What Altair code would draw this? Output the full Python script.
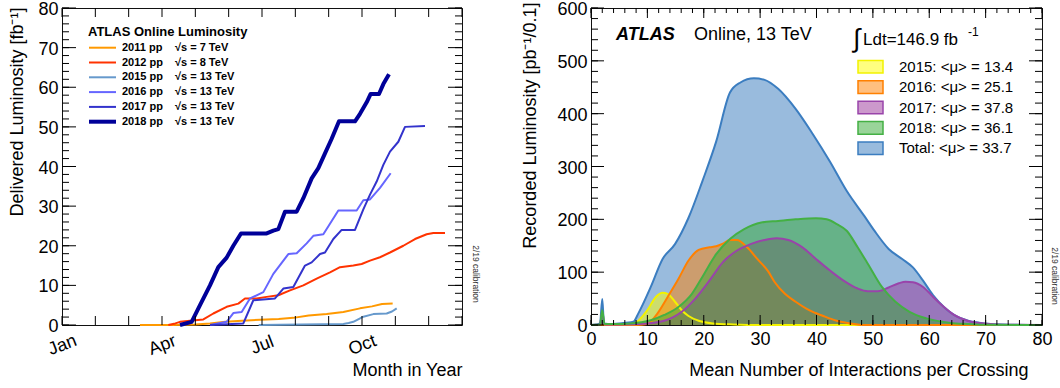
import altair as alt
import pandas as pd

FONT = "Liberation Sans"

# ---------------- Left panel: delivered luminosity vs month ----------------
left_years = ["2011", "2012", "2015", "2016", "2017", "2018"]
left_pp = ["2011 pp", "2012 pp", "2015 pp", "2016 pp", "2017 pp", "2018 pp"]
left_energy = ["√s = 7 TeV", "√s = 8 TeV", "√s = 13 TeV", "√s = 13 TeV", "√s = 13 TeV", "√s = 13 TeV"]
left_colors = ["#ff9900", "#ff3300", "#6699cc", "#6666ff", "#3333cc", "#000099"]

month_2011 = [2.34, 3.3, 4.0, 4.44, 4.9, 5.4, 5.94, 6.5, 6.94, 7.4, 7.94, 8.44, 8.94, 9.3, 9.6, 9.92]
lum_2011 = [0, 0, 0.1, 0.4, 0.8, 1.1, 1.3, 1.5, 1.8, 2.4, 2.8, 3.3, 4.2, 4.7, 5.3, 5.4]

month_2012 = [3.19, 3.4, 3.54, 3.84, 4.24, 4.54, 4.94, 5.29, 5.49, 5.84, 6.14, 6.49, 6.84, 7.24,
              7.64, 8.04, 8.34, 8.74, 8.99, 9.24, 9.54, 9.84, 10.24, 10.59, 10.94, 11.14, 11.49]
lum_2012 = [0, 0.4, 0.8, 1.1, 1.4, 2.9, 4.6, 5.4, 6.7, 6.7, 7.1, 7.5, 8.75, 10,
            11.7, 13.3, 14.6, 15, 15.4, 16.25, 17.1, 18.3, 20, 21.7, 22.9, 23.2, 23.2]

month_2015 = [5.9, 8.44, 8.6, 8.74, 8.9, 9.04, 9.34, 9.74, 9.9, 10.04]
lum_2015 = [0, 0.25, 0.5, 0.8, 1.5, 2.1, 2.75, 2.9, 3.4, 4.2]

month_2016 = [4.44, 4.94, 5.14, 5.39, 5.64, 6.04, 6.34, 6.79, 7.04, 7.34, 7.54, 7.84, 8.29, 8.84,
              9.04, 9.24, 9.54, 9.86]
lum_2016 = [0, 0.8, 3, 3.3, 6.7, 8.3, 12.9, 17.9, 18.1, 20.6, 22.5, 22.9, 28.9, 28.9,
            31.5, 31.7, 34.6, 38.3]

month_2017 = [4.44, 5.44, 5.74, 5.94, 6.39, 6.64, 6.94, 7.29, 7.49, 7.74, 7.89, 8.14, 8.39, 8.79,
              9.04, 9.24, 9.44, 9.64, 9.84, 10.09, 10.29, 10.89]
lum_2017 = [0, 0.4, 6.25, 6.4, 6.7, 9.2, 9.6, 15, 15.8, 17.9, 18.3, 21.7, 24, 24,
            29.2, 32.9, 36.2, 40.4, 43.75, 46.25, 50, 50.25]

month_2018 = [3.54, 3.89, 4.14, 4.44, 4.69, 4.94, 5.14, 5.37, 6.14, 6.34, 6.49, 6.69, 7.04, 7.24,
              7.49, 7.69, 7.89, 8.09, 8.31, 8.79, 8.94, 9.14, 9.26, 9.51, 9.64, 9.81]
lum_2018 = [0, 0.8, 5, 10, 14.6, 17, 20, 23.1, 23.1, 23.8, 24.2, 28.6, 28.6, 32,
            37, 39.6, 43.3, 47, 51.4, 51.4, 53.3, 56.2, 58.3, 58.3, 60.8, 63.3]

month_tick_labels = ["Jan", "Apr", "Jul", "Oct"]
month_tick_pos = [0, 3, 6, 9]
left_legend_title = "ATLAS Online Luminosity"
calib_text = "2/19 calibration"

# ---------------- Right panel: pile-up distribution ----------------
right_series = ["Total", "2015", "2016", "2017", "2018"]          # drawing order
right_fill = ["#3377bb", "#ffff00", "#ff8000", "#993399", "#33aa33"]
right_line = ["#3b7dc0", "#f2f200", "#ff8000", "#9944aa", "#44b044"]

mu_total = [0, 1.0, 1.6, 2.0, 2.3, 3.0, 5, 7.5, 8.4, 10.6, 12.7, 14.9, 17.3, 19.75, 22.2, 24.65, 26.5,
            28.9, 30.8, 33.2, 36.3, 39.3, 42.4, 45.4, 48.5, 50.3, 52.8, 55.2, 57.1, 58.9, 60.7, 62.6,
            64.4, 66.9, 69.9, 73, 80]
lum_total = [0, 1, 3, 49, 3, 2, 3, 6, 22, 72, 125, 153, 203, 272, 347, 440, 459,
             467, 464, 447, 409, 362, 309, 253, 206, 178, 144, 125, 109, 84, 56, 34,
             19, 8, 3, 1, 0]

mu_2015 = [0, 5, 7.5, 10, 11.5, 12.7, 13.6, 14.9, 16.1, 17.3, 19.1, 21.6, 25.3, 30, 80]
lum_2015r = [0, 0, 2, 28, 53, 61, 59, 44, 28, 17, 8, 3, 1, 0, 0]

mu_2016 = [0, 8, 10, 11.8, 13.6, 15.5, 17.3, 19.1, 21, 22.2, 23.4, 24.65, 25.9, 27.7, 29.5, 31.4,
           32.6, 34.4, 36.3, 38.7, 41.2, 43.6, 46, 48.5, 80]
lum_2016r = [0, 0, 2, 22, 53, 87, 122, 142, 147, 149, 154, 161, 161, 147, 125, 102,
             81, 59, 44, 28, 17, 8, 3, 0, 0]

mu_2017 = [0, 1.6, 2.0, 2.4, 5, 10, 13, 16.1, 18.5, 21, 23.4, 25.9, 28.3, 30.8, 32.9, 35, 37.5,
           39.9, 42.4, 44.8, 47.3, 49.1, 50.9, 52.8, 54.6, 55.8, 57.1, 58.9, 60.7, 62.6, 64.4,
           66.9, 69.9, 74.2, 80]
lum_2017r = [0, 1, 23, 1, 1, 3, 8, 25, 50, 84, 119, 141, 153, 161, 164, 161, 147,
             125, 103, 84, 69, 64, 64, 71, 79, 82, 81, 72, 53, 34, 19,
             7.5, 2.5, 0.5, 0]

mu_2018 = [0, 1.6, 2.0, 2.4, 4, 6.9, 10.6, 13, 15.5, 17.9, 19.75, 22.2, 24.65, 27.1, 30.2, 33.2,
           36.3, 39.9, 41.8, 43.6, 45.4, 47.3, 49.1, 51.6, 54, 56.5, 59.5, 63.8, 66.9, 70, 80]
lum_2018r = [0, 1, 28, 2, 2, 3, 9, 19, 34, 59, 91, 134, 163, 181, 194, 197,
             200, 202, 200, 191, 178, 147, 116, 72, 44, 25, 12.5, 4, 2, 0.5, 0]

right_legend_names = ["2015", "2016", "2017", "2018", "Total"]
right_legend_labels = ["2015: <μ> = 13.4", "2016: <μ> = 25.1", "2017: <μ> = 37.8",
                       "2018: <μ> = 36.1", "Total: <μ> = 33.7"]
atlas_label = "ATLAS"
online_label = "Online, 13 TeV"
integral_sign = "∫"
lumi_label = "Ldt=146.9 fb"
lumi_exp = "-1"

# ---------------- geometry ----------------
TOP = 8                      # top padding (plot top edge)
BOTTOM_EDGE = 325            # plot bottom edge in the page
LW, LH = 400, BOTTOM_EDGE - TOP
RW, RH = 451, BOTTOM_EDGE - TOP
D = TOP - 5                  # shift of plot-relative annotation positions


def ticks(values, channel, scale, axis, side, length, W, H):
    df = pd.DataFrame({"t": values})
    base = alt.Chart(df).mark_rule(color="black", strokeWidth=1)
    if channel == "x":
        enc = dict(x=alt.X("t:Q", scale=scale, axis=axis))
        if side == "bottom":
            enc.update(y=alt.value(H), y2=alt.value(H - length))
        else:
            enc.update(y=alt.value(0), y2=alt.value(length))
    else:
        enc = dict(y=alt.Y("t:Q", scale=scale, axis=axis))
        if side == "left":
            enc.update(x=alt.value(0), x2=alt.value(length))
        else:
            enc.update(x=alt.value(W - length), x2=alt.value(W))
    return base.encode(**enc)


def label_text(text, x, y, size, **kw):
    return alt.Chart(pd.DataFrame({"t": [text]})).mark_text(
        font=FONT, fontSize=size, align=kw.pop("align", "left"),
        baseline=kw.pop("baseline", "middle"), **kw
    ).encode(text="t:N", x=alt.value(x), y=alt.value(y))


# ---------------- left chart ----------------
rows = []
for yr, ms, vs in zip(left_years,
                      [month_2011, month_2012, month_2015, month_2016, month_2017, month_2018],
                      [lum_2011, lum_2012, lum_2015, lum_2016, lum_2017, lum_2018]):
    for m, v in zip(ms, vs):
        rows.append({"year": yr, "month": m, "lum": v})
df_left = pd.DataFrame(rows)

xs_l = alt.Scale(domain=[0, 12], nice=False, zero=False)
ys_l = alt.Scale(domain=[0, 80], nice=False)
cs_l = alt.Scale(domain=left_years, range=left_colors)

label_js = "[" + ",".join("'%s'" % s for s in month_tick_labels) + "]"
x_axis_l = alt.Axis(values=month_tick_pos, labelExpr=label_js + "[round(datum.value/3)]",
                    labelAngle=339, labelAlign="center", labelBaseline="middle", labelPadding=20,
                    title="Month in Year", titleX=LW, titleY=45, titleAlign="right",
                    titleBaseline="middle", labelFlush=False, labelOverlap=False)
y_axis_l = alt.Axis(values=list(range(0, 81, 10)), labelPadding=4, labelFlush=False,
                    labelOffset=1.5, labelOverlap=False, title="Delivered Luminosity [fb⁻¹]",
                    titleX=-45, titleY=2 - D, titleAngle=270, titleAlign="right",
                    titleBaseline="middle")

thin = alt.Chart(df_left).transform_filter(alt.datum.year != "2018").mark_line(
    strokeWidth=2, strokeJoin="round").encode(
    x=alt.X("month:Q", scale=xs_l, axis=x_axis_l),
    y=alt.Y("lum:Q", scale=ys_l, axis=y_axis_l),
    color=alt.Color("year:N", scale=cs_l, legend=None),
    detail="year:N")
thick = alt.Chart(df_left).transform_filter(alt.datum.year == "2018").mark_line(
    strokeWidth=4, strokeJoin="round").encode(
    x=alt.X("month:Q", scale=xs_l, axis=x_axis_l),
    y=alt.Y("lum:Q", scale=ys_l, axis=y_axis_l),
    color=alt.Color("year:N", scale=cs_l, legend=None))

left_main = alt.layer(
    thin, thick,
    ticks(list(range(0, 13)), "x", xs_l, x_axis_l, "bottom", 9, LW, LH),
    ticks(list(range(0, 13)), "x", xs_l, x_axis_l, "top", 9, LW, LH),
    ticks(list(range(0, 81, 10)), "y", ys_l, y_axis_l, "left", 14, LW, LH),
    ticks(list(range(0, 81, 2)), "y", ys_l, y_axis_l, "left", 7, LW, LH),
    ticks(list(range(0, 81, 10)), "y", ys_l, y_axis_l, "right", 14, LW, LH),
    ticks(list(range(0, 81, 2)), "y", ys_l, y_axis_l, "right", 7, LW, LH),
)

leg_l = pd.DataFrame({"row": list(range(len(left_years))), "year": left_years,
                      "pp": left_pp, "energy": left_energy})
row_scale_l = alt.Scale(domain=[0, 5], range=[42.7 - D, 116.7 - D], nice=False, zero=False)
leg_rules = alt.Chart(leg_l).mark_rule().encode(
    x=alt.value(27), x2=alt.value(54),
    y=alt.Y("row:Q", scale=row_scale_l, axis=None),
    color=alt.Color("year:N", scale=cs_l, legend=None),
    strokeWidth=alt.condition(alt.datum.year == "2018", alt.value(4), alt.value(2)))
leg_pp = alt.Chart(leg_l).mark_text(font=FONT, fontSize=11, fontWeight="bold", align="left",
                                    baseline="middle").encode(
    x=alt.value(60), y=alt.Y("row:Q", scale=row_scale_l, axis=None), text="pp:N")
leg_en = alt.Chart(leg_l).mark_text(font=FONT, fontSize=11, fontWeight="bold", align="left",
                                    baseline="middle").encode(
    x=alt.value(113), y=alt.Y("row:Q", scale=row_scale_l, axis=None), text="energy:N")

left = alt.layer(
    left_main, leg_rules, leg_pp, leg_en,
    label_text(left_legend_title, 26, 27 - D, 13, fontWeight="bold"),
    label_text(calib_text, 414, 269 - D, 8.5, align="center", angle=90, color="#333"),
).resolve_scale(y="independent").properties(width=LW, height=LH)

# ---------------- right chart ----------------
rrows = []
for name, ms, vs in zip(right_series,
                        [mu_total, mu_2015, mu_2016, mu_2017, mu_2018],
                        [lum_total, lum_2015r, lum_2016r, lum_2017r, lum_2018r]):
    for m, v in zip(ms, vs):
        rrows.append({"series": name, "mu": m, "lum": v})
df_right = pd.DataFrame(rrows)

xs_r = alt.Scale(domain=[0, 80], nice=False, zero=False)
ys_r = alt.Scale(domain=[0, 600], nice=False)

x_axis_r = alt.Axis(values=list(range(0, 81, 10)), labelPadding=5, labelFlush=False,
                    labelOverlap=False, title="Mean Number of Interactions per Crossing",
                    titleX=437, titleY=45, titleAlign="right", titleBaseline="middle")
y_axis_r = alt.Axis(values=list(range(0, 601, 100)), labelPadding=4, labelFlush=False,
                    labelOffset=1.5, labelOverlap=False, title="Recorded Luminosity [pb⁻¹/0.1]",
                    titleX=-61, titleY=-3 - D, titleAngle=270, titleAlign="right",
                    titleBaseline="middle")

fills = []
lines = []
for name, fc, lc in zip(right_series, right_fill, right_line):
    fills.append(alt.Chart(df_right).transform_filter(alt.datum.series == name).mark_area(
        color=fc, opacity=0.5, interpolate="monotone").encode(
        x=alt.X("mu:Q", scale=xs_r, axis=x_axis_r),
        y=alt.Y("lum:Q", scale=ys_r, axis=y_axis_r)))
    lines.append(alt.Chart(df_right).transform_filter(alt.datum.series == name).mark_line(
        color=lc, strokeWidth=2, interpolate="monotone").encode(
        x=alt.X("mu:Q", scale=xs_r, axis=x_axis_r),
        y=alt.Y("lum:Q", scale=ys_r, axis=y_axis_r)))

right_main = alt.layer(
    *fills, *lines,
    ticks(list(range(0, 81, 10)), "x", xs_r, x_axis_r, "bottom", 10, RW, RH),
    ticks(list(range(0, 81, 2)), "x", xs_r, x_axis_r, "bottom", 5, RW, RH),
    ticks(list(range(0, 81, 10)), "x", xs_r, x_axis_r, "top", 10, RW, RH),
    ticks(list(range(0, 81, 2)), "x", xs_r, x_axis_r, "top", 5, RW, RH),
    ticks(list(range(0, 601, 100)), "y", ys_r, y_axis_r, "left", 13, RW, RH),
    ticks(list(range(0, 601, 20)), "y", ys_r, y_axis_r, "left", 7, RW, RH),
    ticks(list(range(0, 601, 100)), "y", ys_r, y_axis_r, "right", 13, RW, RH),
    ticks(list(range(0, 601, 20)), "y", ys_r, y_axis_r, "right", 7, RW, RH),
)

leg_r = pd.DataFrame({"row": list(range(len(right_legend_names))), "name": right_legend_names,
                      "label": right_legend_labels})
row_scale_r = alt.Scale(domain=[0, 4], range=[61.7 - D, 143.3 - D], nice=False, zero=False)
fill_map = dict(zip(right_series, right_fill))
line_map = dict(zip(right_series, right_line))
leg_rects = alt.Chart(leg_r).transform_calculate(
    lo="datum.row - 0.31", hi="datum.row + 0.31").mark_rect(strokeWidth=1.5, fillOpacity=0.5).encode(
    x=alt.value(267), x2=alt.value(292),
    y=alt.Y("lo:Q", scale=row_scale_r, axis=None), y2="hi:Q",
    fill=alt.Fill("name:N", scale=alt.Scale(domain=right_legend_names,
                                            range=[fill_map[n] for n in right_legend_names]),
                  legend=None),
    stroke=alt.Stroke("name:N", scale=alt.Scale(domain=right_legend_names,
                                                range=[line_map[n] for n in right_legend_names]),
                      legend=None))
leg_rtext = alt.Chart(leg_r).mark_text(font=FONT, fontSize=15, align="left",
                                       baseline="middle").encode(
    x=alt.value(308), y=alt.Y("row:Q", scale=row_scale_r, axis=None), text="label:N")

right = alt.layer(
    right_main, leg_rects, leg_rtext,
    label_text(atlas_label, 25, 30 - D, 18, fontWeight="bold", fontStyle="italic"),
    label_text(online_label, 103, 30 - D, 18),
    label_text(integral_sign, 262, 34 - D, 26),
    label_text(lumi_label, 272, 35 - D, 17),
    label_text(lumi_exp, 377, 27 - D, 12),
    label_text(calib_text, 464, 271 - D, 8.5, align="center", angle=90, color="#333"),
).resolve_scale(y="independent").properties(width=RW, height=RH)

chart = alt.hconcat(left, right, spacing=129, bounds="flush").properties(
    autosize=alt.AutoSizeParams(type="none"),
    padding={"left": 62, "top": TOP, "right": 1060 - 62, "bottom": 388 - TOP},
).configure_view(stroke="#111", strokeWidth=1).configure_axis(
    labelFont=FONT, titleFont=FONT, labelFontSize=18, titleFontSize=18,
    labelColor="black", titleColor="black", titleFontWeight="normal",
    grid=False, ticks=False, domain=False, tickSize=0,
)

chart.save("out.html", embed_options={"renderer": "svg", "actions": False})
